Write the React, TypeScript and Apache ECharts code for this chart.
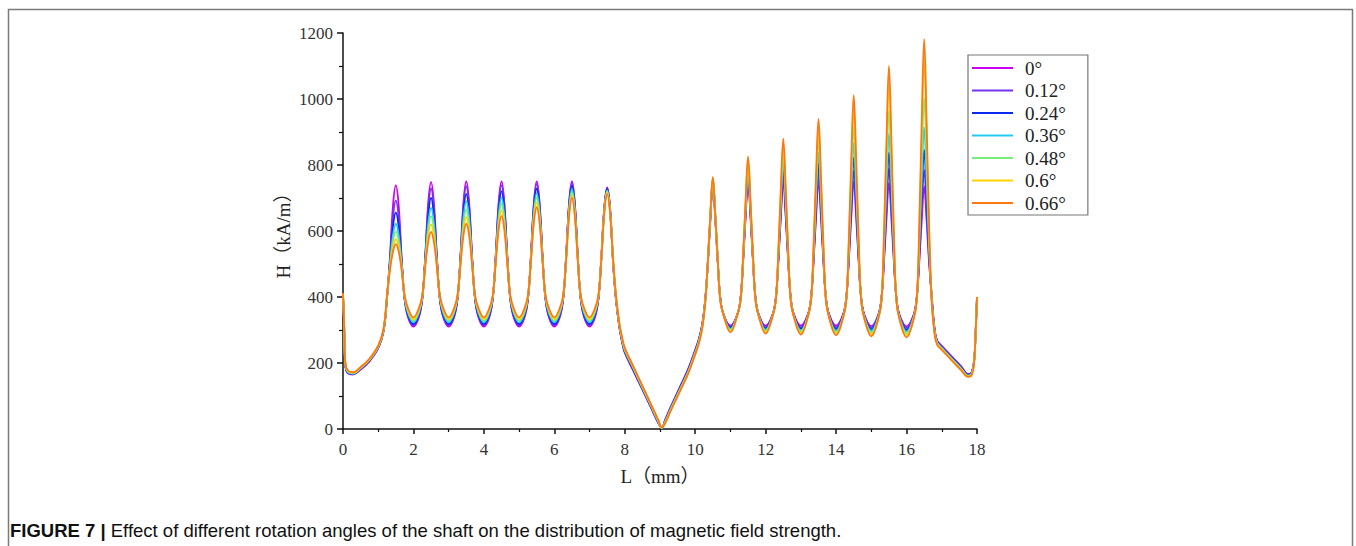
import React, { useEffect, useRef } from 'react';
import * as echarts from 'echarts';

const L_MM = [
  0, 0.03, 0.06, 0.12, 0.28, 0.5, 0.75, 1.0, 1.15,
  1.25, 1.33, 1.42, 1.5, 1.58, 1.67, 1.75, 1.85,
  2, 2.15, 2.25, 2.33, 2.42, 2.5, 2.58, 2.67, 2.75, 2.85,
  3, 3.15, 3.25, 3.33, 3.42, 3.5, 3.58, 3.67, 3.75, 3.85,
  4, 4.15, 4.25, 4.33, 4.42, 4.5, 4.58, 4.67, 4.75, 4.85,
  5, 5.15, 5.25, 5.33, 5.42, 5.5, 5.58, 5.67, 5.75, 5.85,
  6, 6.15, 6.25, 6.33, 6.42, 6.5, 6.58, 6.67, 6.75, 6.85,
  7, 7.15, 7.25, 7.33, 7.42, 7.5, 7.58, 7.67, 7.75, 7.85,
  7.93, 8.0, 8.25, 8.5, 8.75, 8.95, 9.05, 9.15, 9.3, 9.55, 9.8, 10.0, 10.1, 10.2,
  10.29, 10.36, 10.43, 10.5, 10.57, 10.64, 10.71, 10.8,
  11, 11.2, 11.29, 11.36, 11.43, 11.5, 11.57, 11.64, 11.71, 11.8,
  12, 12.2, 12.29, 12.36, 12.43, 12.5, 12.57, 12.64, 12.71, 12.8,
  13, 13.2, 13.29, 13.36, 13.43, 13.5, 13.57, 13.64, 13.71, 13.8,
  14, 14.2, 14.29, 14.36, 14.43, 14.5, 14.57, 14.64, 14.71, 14.8,
  15, 15.2, 15.29, 15.36, 15.43, 15.5, 15.57, 15.64, 15.71, 15.8,
  16, 16.2, 16.29, 16.36, 16.43, 16.5, 16.57, 16.64, 16.72, 16.8,
  16.87, 17.0, 17.3, 17.55, 17.75, 17.85, 17.92, 17.96, 18.0,
];

const H_0 = [
  405, 318, 200, 171, 165, 180, 205, 245, 295,
  398, 515, 678, 738, 678, 510, 392, 337,
  310, 337, 392, 514, 685, 748, 685, 514, 392, 337,
  310, 337, 392, 514, 686, 750, 686, 514, 392, 337,
  310, 337, 392, 514, 686, 750, 686, 514, 392, 337,
  310, 337, 392, 514, 686, 750, 686, 514, 392, 337,
  310, 337, 392, 514, 686, 750, 686, 514, 392, 337,
  310, 337, 392, 511, 672, 732, 672, 500, 392, 305,
  260, 231, 175, 119, 63, 18, 4, 29, 66, 124, 182, 240, 272, 318,
  400, 505, 635, 742, 635, 505, 400, 348,
  313, 348, 400, 508, 641, 750, 641, 508, 400, 348,
  313, 348, 400, 508, 641, 750, 641, 508, 400, 348,
  313, 348, 400, 508, 641, 750, 641, 508, 400, 348,
  313, 348, 400, 508, 641, 750, 641, 508, 400, 347,
  312, 347, 400, 507, 638, 746, 638, 507, 400, 346,
  311, 346, 400, 504, 631, 735, 631, 504, 395, 300,
  268, 252, 218, 190, 166, 172, 210, 290, 400,
];

const H_012 = [
  406, 319, 202, 172, 166, 181, 206, 246, 296,
  399, 508, 642, 692, 642, 504, 394, 341,
  314, 341, 394, 510, 669, 728, 669, 510, 394, 341,
  314, 341, 394, 511, 675, 735, 675, 511, 394, 341,
  314, 341, 394, 512, 677, 738, 677, 512, 394, 341,
  314, 341, 394, 513, 680, 742, 680, 513, 394, 341,
  314, 341, 394, 513, 683, 746, 683, 513, 394, 341,
  314, 341, 394, 510, 671, 730, 671, 502, 394, 307,
  262, 233, 177, 121, 65, 20, 4, 27, 64, 122, 180, 238, 270, 316,
  398, 507, 640, 750, 640, 507, 398, 348,
  310, 348, 398, 511, 651, 765, 651, 511, 398, 347,
  309, 347, 398, 512, 652, 767, 652, 512, 398, 346,
  308, 346, 398, 514, 658, 775, 658, 514, 398, 346,
  308, 346, 398, 516, 662, 782, 662, 516, 398, 345,
  307, 345, 398, 518, 668, 790, 668, 518, 398, 344,
  306, 344, 398, 516, 664, 785, 664, 516, 392, 298,
  266, 250, 216, 188, 165, 171, 209, 290, 400,
];

const H_024 = [
  407, 320, 203, 174, 167, 183, 208, 248, 298,
  400, 502, 614, 656, 614, 498, 396, 345,
  318, 345, 396, 505, 647, 700, 647, 505, 396, 345,
  318, 345, 396, 507, 657, 712, 657, 507, 396, 345,
  318, 345, 396, 509, 663, 720, 663, 509, 396, 345,
  318, 345, 396, 510, 669, 728, 669, 510, 396, 345,
  318, 345, 396, 512, 676, 737, 676, 512, 396, 345,
  318, 345, 396, 510, 668, 727, 668, 504, 396, 309,
  265, 236, 179, 123, 67, 22, 3, 25, 62, 120, 177, 235, 267, 314,
  397, 509, 644, 755, 644, 509, 397, 348,
  307, 348, 397, 514, 658, 776, 658, 514, 397, 346,
  305, 346, 397, 517, 666, 788, 666, 517, 397, 345,
  304, 345, 397, 521, 677, 805, 677, 521, 397, 344,
  303, 344, 397, 526, 689, 822, 689, 526, 397, 343,
  302, 343, 397, 530, 699, 838, 699, 530, 397, 341,
  300, 341, 397, 532, 705, 846, 705, 532, 388, 295,
  264, 248, 214, 186, 164, 170, 208, 290, 400,
];

const H_036 = [
  408, 321, 205, 175, 168, 184, 209, 249, 299,
  401, 496, 588, 622, 588, 492, 398, 350,
  323, 350, 398, 500, 624, 670, 624, 500, 398, 350,
  323, 350, 398, 503, 640, 690, 640, 503, 398, 350,
  323, 350, 398, 505, 647, 700, 647, 505, 398, 350,
  323, 350, 398, 508, 658, 714, 658, 508, 398, 350,
  323, 350, 398, 510, 668, 727, 668, 510, 398, 350,
  323, 350, 398, 509, 665, 723, 665, 506, 398, 311,
  267, 238, 182, 125, 69, 23, 3, 23, 60, 117, 175, 233, 265, 312,
  395, 509, 646, 758, 646, 509, 395, 347,
  303, 347, 395, 517, 666, 787, 666, 517, 395, 345,
  301, 345, 395, 523, 681, 810, 681, 523, 395, 343,
  299, 343, 395, 530, 699, 838, 699, 530, 395, 342,
  298, 342, 395, 537, 718, 866, 718, 537, 395, 341,
  297, 341, 395, 544, 737, 895, 737, 544, 395, 339,
  295, 339, 395, 549, 750, 914, 750, 549, 385, 292,
  262, 246, 212, 184, 162, 168, 207, 290, 400,
];

const H_048 = [
  409, 322, 206, 177, 169, 185, 210, 250, 300,
  402, 490, 569, 598, 569, 487, 400, 355,
  328, 355, 400, 495, 605, 645, 605, 495, 400, 355,
  328, 355, 400, 499, 620, 665, 620, 499, 400, 355,
  328, 355, 400, 502, 633, 682, 633, 502, 400, 355,
  328, 355, 400, 505, 647, 700, 647, 505, 400, 355,
  328, 355, 400, 508, 661, 718, 661, 508, 400, 355,
  328, 355, 400, 509, 663, 720, 663, 508, 400, 313,
  270, 241, 184, 127, 70, 24, 3, 22, 58, 115, 172, 230, 262, 310,
  394, 510, 648, 760, 648, 510, 394, 347,
  300, 347, 394, 520, 674, 800, 674, 520, 394, 344,
  297, 344, 394, 529, 698, 836, 698, 529, 394, 342,
  295, 342, 394, 539, 724, 876, 724, 539, 394, 340,
  293, 340, 394, 549, 750, 915, 750, 549, 394, 338,
  291, 338, 394, 561, 783, 965, 783, 561, 394, 336,
  289, 336, 394, 571, 809, 1004, 809, 571, 382, 290,
  260, 244, 210, 182, 161, 167, 206, 290, 400,
];

const H_06 = [
  410, 323, 208, 178, 170, 186, 211, 251, 301,
  403, 485, 551, 575, 551, 482, 402, 360,
  333, 360, 402, 491, 585, 620, 585, 491, 402, 360,
  333, 360, 402, 495, 602, 642, 602, 495, 402, 360,
  333, 360, 402, 498, 618, 662, 618, 498, 402, 360,
  333, 360, 402, 503, 637, 686, 637, 503, 402, 360,
  333, 360, 402, 506, 653, 708, 653, 506, 402, 360,
  333, 360, 402, 508, 660, 716, 660, 510, 402, 315,
  272, 243, 186, 129, 72, 26, 4, 20, 56, 113, 170, 228, 260, 307,
  392, 510, 649, 762, 649, 510, 392, 346,
  296, 346, 392, 523, 683, 813, 683, 523, 392, 343,
  293, 343, 392, 536, 715, 862, 715, 536, 392, 340,
  290, 340, 392, 548, 748, 912, 748, 548, 392, 338,
  288, 338, 392, 563, 788, 972, 788, 563, 392, 336,
  286, 336, 392, 582, 837, 1046, 837, 582, 392, 334,
  284, 334, 392, 600, 886, 1120, 886, 600, 378, 288,
  258, 242, 208, 180, 159, 165, 205, 290, 400,
];

const H_066 = [
  412, 325, 210, 180, 172, 188, 213, 253, 303,
  405, 480, 538, 560, 538, 477, 404, 365,
  338, 365, 404, 487, 567, 597, 567, 487, 404, 365,
  338, 365, 404, 491, 587, 622, 587, 491, 404, 365,
  338, 365, 404, 495, 605, 646, 605, 495, 404, 365,
  338, 365, 404, 500, 626, 672, 626, 500, 404, 365,
  338, 365, 404, 505, 647, 700, 647, 505, 404, 365,
  338, 365, 404, 507, 657, 712, 657, 512, 405, 318,
  275, 246, 188, 131, 74, 28, 5, 18, 54, 110, 168, 226, 258, 305,
  390, 511, 650, 763, 650, 511, 390, 347,
  293, 347, 390, 527, 691, 826, 691, 527, 390, 343,
  289, 343, 390, 540, 727, 880, 727, 540, 390, 340,
  286, 340, 390, 555, 767, 940, 767, 555, 390, 338,
  284, 338, 390, 573, 815, 1012, 815, 573, 390, 335,
  281, 335, 390, 595, 873, 1100, 873, 595, 390, 332,
  278, 332, 390, 616, 927, 1182, 927, 616, 375, 285,
  255, 240, 206, 178, 158, 164, 204, 290, 400,
];

const ANGLE_NAMES = ['0°', '0.12°', '0.24°', '0.36°', '0.48°', '0.6°', '0.66°'];
const SERIES_VALUES = [H_0, H_012, H_024, H_036, H_048, H_06, H_066];
const COLORS = ['#cc00ee', '#7733ee', '#0a2af0', '#22ccee', '#77ee77', '#ffd400', '#ff7711'];

const SERIF = "'Liberation Serif', 'Noto Sans CJK SC', serif";
const SANS = "'Liberation Sans', Arial, sans-serif";

export default function App() {
  const ref = useRef<HTMLDivElement>(null);
  useEffect(() => {
    const chart = echarts.init(ref.current as HTMLDivElement, null, { renderer: 'svg' });
    const series = SERIES_VALUES.map((vals, i) => ({
      name: ANGLE_NAMES[i],
      type: 'line',
      data: L_MM.map((x, j) => [x, vals[j]]),
      symbol: 'none',
      smooth: 0.4,
      lineStyle: { color: COLORS[i], width: 1.8 },
      itemStyle: { color: COLORS[i] },
    }));
    chart.setOption({
      animation: false,
      backgroundColor: '#fff',
      grid: { left: 343, top: 33, width: 634, height: 396, containLabel: false },
      xAxis: {
        type: 'value',
        min: 0,
        max: 18,
        interval: 2,
        name: 'L（mm）',
        nameLocation: 'middle',
        nameGap: 38,
        nameTextStyle: { fontFamily: SERIF, fontSize: 19, color: '#222' },
        axisLine: { show: true, onZero: false, lineStyle: { color: '#111', width: 1.5 } },
        axisTick: { show: true, length: 5, lineStyle: { color: '#111', width: 1.5 } },
        minorTick: { show: true, splitNumber: 2, length: 3, lineStyle: { color: '#111', width: 1.2 } },
        splitLine: { show: false },
        axisLabel: { fontFamily: SERIF, fontSize: 17, color: '#333', margin: 12, formatter: (v: number) => String(v) },
      },
      yAxis: {
        type: 'value',
        min: 0,
        max: 1200,
        interval: 200,
        name: 'H（kA/m）',
        nameLocation: 'middle',
        nameRotate: 90,
        nameGap: 50,
        nameTextStyle: { fontFamily: SERIF, fontSize: 19, color: '#222' },
        axisLine: { show: true, lineStyle: { color: '#111', width: 1.5 } },
        axisTick: { show: true, length: 6, lineStyle: { color: '#111', width: 1.5 } },
        minorTick: { show: true, splitNumber: 2, length: 4, lineStyle: { color: '#111', width: 1.2 } },
        splitLine: { show: false },
        axisLabel: { fontFamily: SERIF, fontSize: 17, color: '#333', margin: 10, formatter: (v: number) => String(v) },
      },
      legend: {
        orient: 'vertical',
        left: 968,
        top: 55,
        padding: [2, 22, 1, 4],
        itemWidth: 41,
        itemHeight: 2,
        itemGap: 0.5,
        icon: 'rect',
        backgroundColor: '#fff',
        borderColor: '#777',
        borderWidth: 1.2,
        data: ANGLE_NAMES,
        textStyle: { fontFamily: SERIF, fontSize: 19, lineHeight: 22, color: '#222', padding: [0, 0, 0, 7] },
      },
      graphic: [
        {
          type: 'rect',
          shape: { x: 8.5, y: 9.5, width: 1344, height: 600 },
          style: { fill: 'none', stroke: '#7a7a7a', lineWidth: 1.5 },
          silent: true,
        },
        {
          type: 'text',
          left: 10,
          top: 521,
          style: {
            text: '{b|FIGURE 7 |} {r|Effect of different rotation angles of the shaft on the distribution of magnetic field strength.}',
            rich: {
              b: { fontFamily: SANS, fontWeight: 'bold', fontSize: 18.5, fill: '#111' },
              r: { fontFamily: SANS, fontSize: 18.5, fill: '#111' },
            },
            fontFamily: SANS,
            fontSize: 18.5,
            fill: '#111',
          },
        },
      ],
      series,
    });
    return () => chart.dispose();
  }, []);
  return (
    <div
      ref={ref}
      style={{ position: 'absolute', left: 0, top: 0, width: 1356, height: 546, background: '#fff' }}
    />
  );
}
